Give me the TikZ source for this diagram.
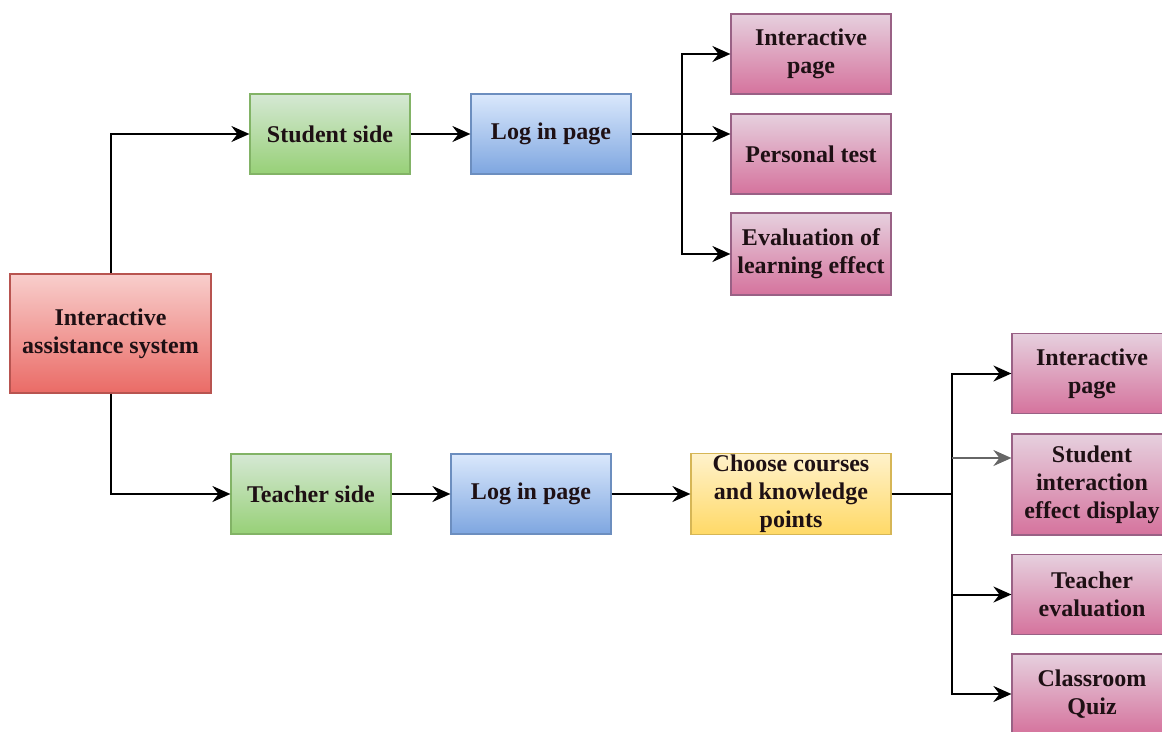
\documentclass[tikz,border=0pt]{standalone}
\usepackage{fontspec}
\setmainfont{Liberation Serif}
\usetikzlibrary{arrows.meta}
\definecolor{gF}{HTML}{D5E8D4}\definecolor{gT}{HTML}{97D077}\definecolor{gS}{HTML}{82B366}
\definecolor{bF}{HTML}{DAE8FC}\definecolor{bT}{HTML}{7EA6E0}\definecolor{bS}{HTML}{6C8EBF}
\definecolor{rF}{HTML}{F8CECC}\definecolor{rT}{HTML}{EA6B66}\definecolor{rS}{HTML}{B85450}
\definecolor{yF}{HTML}{FFF2CC}\definecolor{yT}{HTML}{FFD966}\definecolor{yS}{HTML}{D6B656}
\definecolor{pF}{HTML}{E6D0DE}\definecolor{pT}{HTML}{D5739D}\definecolor{pS}{HTML}{996185}
\definecolor{txt}{HTML}{1E1014}
\tikzset{
  box/.style={rectangle, minimum width=160pt, minimum height=80pt, inner sep=2pt,
    align=center, line width=1.2pt, text=txt,
    font=\fontsize{24}{28}\selectfont\bfseries},
  greenbox/.style={box, draw=gS, top color=gF, bottom color=gT},
  bluebox/.style={box, draw=bS, top color=bF, bottom color=bT},
  redbox/.style={box, draw=rS, top color=rF, bottom color=rT},
  yellowbox/.style={box, draw=yS, top color=yF, bottom color=yT},
  pinkbox/.style={box, draw=pS, top color=pF, bottom color=pT},
  arr/.style={line width=2pt, -{Stealth[length=18pt,width=16pt,inset=6pt]}},
  ln/.style={line width=2pt}
}
\begin{document}
\begin{tikzpicture}[x=1pt,y=-1pt]
\useasboundingbox (0,0) rectangle (1162,731);
\clip (0,0) rectangle (1162,731);
\fill[white] (0,0) rectangle (1162,731);
% nodes
\node[redbox, minimum width=201pt, minimum height=119pt] (root) at (110.5,333.5) {Interactive\\assistance system};
\node[greenbox] (ss) at (330,134) {Student side};
\node[bluebox] (lp1) at (551,134) {Log in page};
\node[pinkbox] (ip1) at (811,54) {Interactive\\page};
\node[pinkbox] (pt) at (811,154) {Personal test};
\node[pinkbox, minimum height=82pt] (ev1) at (811,254) {Evaluation of\\learning effect};
\node[greenbox] (ts) at (311,494) {Teacher side};
\node[bluebox] (lp2) at (531,494) {Log in page};
\node[yellowbox, minimum width=200pt] (cc) at (791,494) {Choose courses\\and knowledge\\points};
\node[pinkbox] (ip2) at (1092,373.5) {Interactive\\page};
\node[pinkbox, minimum height=101pt] (sd) at (1092,484.5) {Student\\interaction\\effect display};
\node[pinkbox] (te) at (1092,594.5) {Teacher\\evaluation};
\node[pinkbox] (cq) at (1092,694) {Classroom\\Quiz};
% connectors
\draw[arr] (root.north) |- (ss.west);
\draw[arr] (root.south) |- (ts.west);
\draw[arr] (ss.east) -- (lp1.west);
\coordinate (b1) at (682,134);
\draw[arr] (lp1.east) -- (pt.west |- lp1.east);
\draw[arr] (b1) |- (ip1.west);
\draw[arr] (b1) |- (ev1.west);
\draw[arr] (ts.east) -- (lp2.west);
\draw[arr] (lp2.east) -- (cc.west);
\coordinate (b2) at (952,494);
\coordinate (b3) at (952,458);
\draw[ln] (cc.east) -- (b2);
\draw[arr] (b2) |- (ip2.west);
\draw[arr] (b2) |- (cq.west);
\draw[arr] (b2 |- te.west) -- (te.west);
\draw[arr, draw=black!60, fill=black] (b3) -- (b3 -| sd.west);
\end{tikzpicture}
\end{document}
